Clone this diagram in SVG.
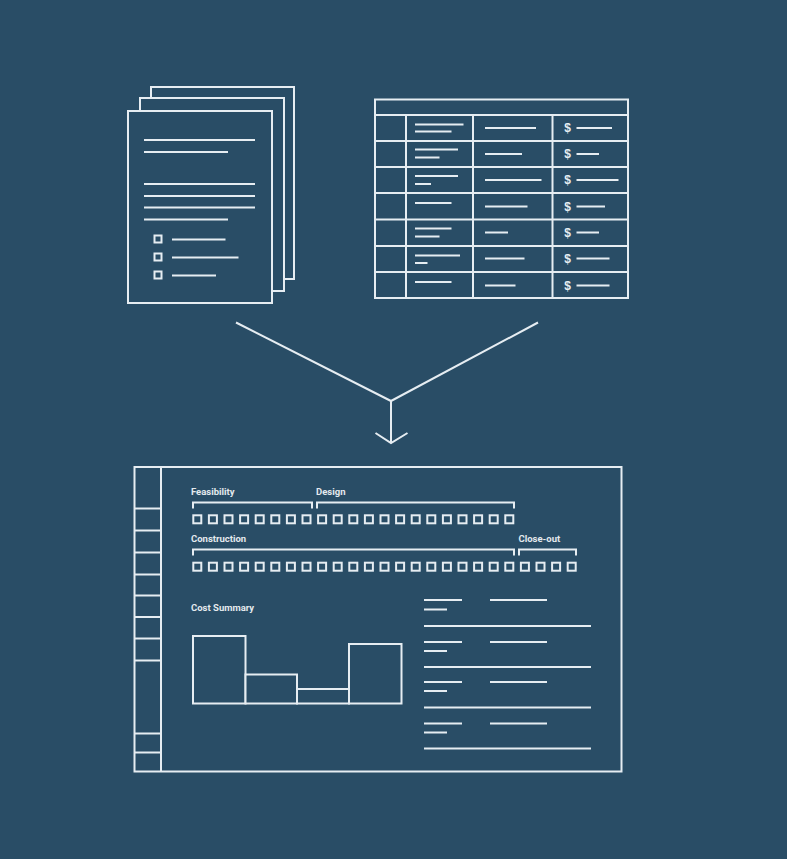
<svg xmlns="http://www.w3.org/2000/svg" width="787" height="859" viewBox="0 0 787 859">
  <style>
    .bg { fill: #294d66; }
    .ln { fill: none; stroke: #e6edf2; stroke-width: 2; stroke-linecap: butt; }
    .box { fill: #294d66; stroke: #e6edf2; stroke-width: 2; }
    .lbl { font-family: Roboto, "Liberation Sans", sans-serif; font-weight: 700; font-size: 9.5px; fill: #e4eaee; }
    .usd { font-family: "Liberation Sans", Arial, sans-serif; font-weight: 700; font-size: 12px; fill: #e6edf2; text-anchor: middle; }
  </style>
  <defs>
    <rect id="sq" width="8" height="8" class="box"/>
  </defs>
  <rect class="bg" x="0" y="0" width="787" height="859"/>

  <!-- stack of text documents -->
  <g id="documents">
    <rect class="box" x="151" y="87" width="143" height="192"/>
    <rect class="box" x="140" y="98" width="144" height="193"/>
    <rect class="box" x="128" y="111" width="144" height="192"/>
    <path class="ln" d="M144 140H255M144 152H228M144 184H255M144 196H255M144 207.5H255M144 219.5H228"/>
    <rect class="box" x="154.5" y="235.5" width="7" height="7"/>
    <rect class="box" x="154.5" y="253.5" width="7" height="7"/>
    <rect class="box" x="154.5" y="271.5" width="7" height="7"/>
    <path class="ln" d="M172 239.5H225.5M172 257.5H238.5M172 275.5H216"/>
  </g>

  <!-- cost table -->
  <g id="table">
    <rect class="box" x="375" y="99.5" width="253" height="198.5"/>
    <path class="ln" d="M375 115H628M375 141H628M375 167H628M375 193H628M375 219.5H628M375 246H628M375 272H628"/>
    <path class="ln" d="M406 115V298M473 115V298M552.5 115V298"/>
    <path class="ln" d="M415 124.5H463.5M415 131.5H451.5M415 149.5H458M415 157.5H439.5M415 176H458M415 184H431M415 203H451.5M415 228.5H451.5M415 236.5H439.5M415 255.5H460M415 263H427.5M415 282H451.5"/>
    <path class="ln" d="M485 128H536M485 154H522M485 180H541.5M485 206.5H527.5M485 232.5H508M485 258.5H524.5M485 285.5H515.5"/>
    <path class="ln" d="M576.5 128H612M576.5 154H599M576.5 180H618.5M576.5 206.5H605M576.5 232.5H599M576.5 258.5H609.5M576.5 285.5H609.5"/>
    <text class="usd" x="567.5" y="132">$</text>
    <text class="usd" x="567.5" y="158">$</text>
    <text class="usd" x="567.5" y="184">$</text>
    <text class="usd" x="567.5" y="210.5">$</text>
    <text class="usd" x="567.5" y="236.5">$</text>
    <text class="usd" x="567.5" y="262.5">$</text>
    <text class="usd" x="567.5" y="289.5">$</text>
  </g>

  <!-- merging arrow -->
  <g id="connectors">
    <path class="ln" d="M236 322.5L391 401L538 322.5M391 401V443"/>
    <path class="ln" d="M375.5 433L391 443L407.5 433"/>
  </g>

  <!-- project report panel -->
  <g id="report">
    <rect class="box" x="134.5" y="467" width="487" height="304.5"/>
    <path class="ln" d="M161 467V771.5"/>
    <path class="ln" d="M134.5 508.5H161M134.5 530.5H161M134.5 552.5H161M134.5 574.5H161M134.5 595.5H161M134.5 617H161M134.5 638.5H161M134.5 660.5H161M134.5 733.5H161M134.5 752.5H161"/>

    <text class="lbl" x="191" y="495">Feasibility</text>
    <text class="lbl" x="316" y="495">Design</text>
    <text class="lbl" x="191" y="541.5">Construction</text>
    <text class="lbl" x="518.5" y="541.5">Close-out</text>
    <path class="ln" d="M193 508.5V502.5H312V508.5M317 508.5V502.5H514V508.5"/>
    <path class="ln" d="M193 555.5V549.5H514V555.5M519 555.5V549.5H576V555.5"/>

    <g id="phase-row-1">
      <use href="#sq" x="193.3" y="515.3"/><use href="#sq" x="208.9" y="515.3"/><use href="#sq" x="224.5" y="515.3"/><use href="#sq" x="240.1" y="515.3"/><use href="#sq" x="255.7" y="515.3"/><use href="#sq" x="271.3" y="515.3"/><use href="#sq" x="286.9" y="515.3"/><use href="#sq" x="302.5" y="515.3"/><use href="#sq" x="318.1" y="515.3"/><use href="#sq" x="333.7" y="515.3"/><use href="#sq" x="349.3" y="515.3"/><use href="#sq" x="364.9" y="515.3"/><use href="#sq" x="380.5" y="515.3"/><use href="#sq" x="396.1" y="515.3"/><use href="#sq" x="411.7" y="515.3"/><use href="#sq" x="427.3" y="515.3"/><use href="#sq" x="442.9" y="515.3"/><use href="#sq" x="458.5" y="515.3"/><use href="#sq" x="474.1" y="515.3"/><use href="#sq" x="489.7" y="515.3"/><use href="#sq" x="505.3" y="515.3"/>
    </g>
    <g id="phase-row-2">
      <use href="#sq" x="193.3" y="562.7"/><use href="#sq" x="208.9" y="562.7"/><use href="#sq" x="224.5" y="562.7"/><use href="#sq" x="240.1" y="562.7"/><use href="#sq" x="255.7" y="562.7"/><use href="#sq" x="271.3" y="562.7"/><use href="#sq" x="286.9" y="562.7"/><use href="#sq" x="302.5" y="562.7"/><use href="#sq" x="318.1" y="562.7"/><use href="#sq" x="333.7" y="562.7"/><use href="#sq" x="349.3" y="562.7"/><use href="#sq" x="364.9" y="562.7"/><use href="#sq" x="380.5" y="562.7"/><use href="#sq" x="396.1" y="562.7"/><use href="#sq" x="411.7" y="562.7"/><use href="#sq" x="427.3" y="562.7"/><use href="#sq" x="442.9" y="562.7"/><use href="#sq" x="458.5" y="562.7"/><use href="#sq" x="474.1" y="562.7"/><use href="#sq" x="489.7" y="562.7"/><use href="#sq" x="505.3" y="562.7"/><use href="#sq" x="520.9" y="562.7"/><use href="#sq" x="536.5" y="562.7"/><use href="#sq" x="552.1" y="562.7"/><use href="#sq" x="567.7" y="562.7"/>
    </g>

    <text class="lbl" x="191" y="611">Cost Summary</text>
    <g id="cost-chart">
      <rect class="box" x="193" y="636" width="52.5" height="67.5"/>
      <rect class="box" x="245.5" y="674.5" width="51.5" height="29"/>
      <rect class="box" x="297" y="689" width="52" height="14.5"/>
      <rect class="box" x="349" y="644" width="52.5" height="59.5"/>
    </g>

    <g id="summary-lines">
      <path class="ln" d="M424 600H462M490 600H547M424 609.5H447M424 626H591"/>
      <path class="ln" d="M424 642H462M490 642H547M424 651H447M424 667H591"/>
      <path class="ln" d="M424 682H462M490 682H547M424 691H447M424 707.5H591"/>
      <path class="ln" d="M424 723.5H462M490 723.5H547M424 732.5H447M424 748.5H591"/>
    </g>
  </g>
</svg>
